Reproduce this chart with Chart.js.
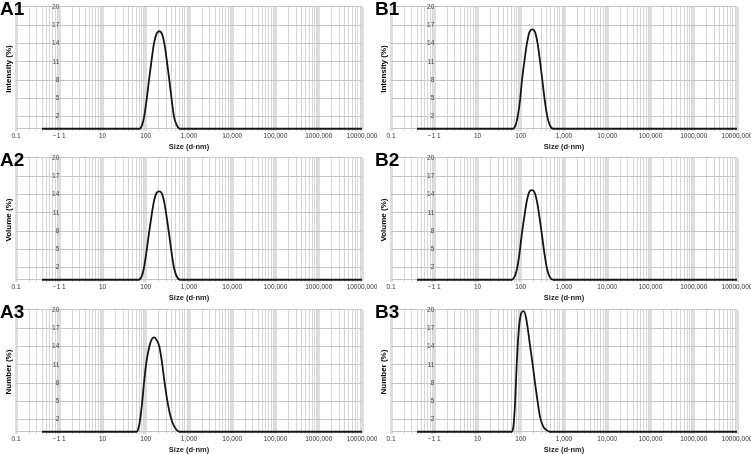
<!DOCTYPE html>
<html>
<head>
<meta charset="utf-8">
<script src="https://cdn.jsdelivr.net/npm/chart.js@4/dist/chart.umd.min.js"></script>
<style>
  html, body { margin: 0; padding: 0; background: #fff; width: 751px; height: 454px; overflow: hidden; position: relative; }
  canvas { position: absolute; }
</style>
</head>
<body>
<canvas id="cA1" width="400" height="151" style="left:0px;top:0px"></canvas>
<canvas id="cB1" width="400" height="151" style="left:375px;top:0px"></canvas>
<canvas id="cA2" width="400" height="151" style="left:0px;top:151px"></canvas>
<canvas id="cB2" width="400" height="151" style="left:375px;top:151px"></canvas>
<canvas id="cA3" width="400" height="151" style="left:0px;top:303px"></canvas>
<canvas id="cB3" width="400" height="151" style="left:375px;top:303px"></canvas>
<script>
// ---- axis labels ----
const xTickValues = [0.1, 1, 10, 100, 1000, 10000, 100000, 1000000, 10000000];
const xTickLabels = ['0.1', '\u22121 1', '10', '100', '1,000', '10,000', '100,000', '1000,000', '10000,000'];
const yTicks = [2, 5, 8, 11, 14, 17, 20];
const xTitle = 'Size (d\u00b7nm)';

// ---- series (size in d.nm, percent) ----
const sizeA1 = [0.4, 72, 82, 92, 104, 119, 136, 155, 178, 206, 236, 269, 307, 351, 400, 450, 520, 620, 10000000];
const valA1  = [0, 0, 0.6, 2.0, 4.6, 8.0, 11.2, 14.0, 15.6, 16.0, 15.6, 14.0, 11.2, 8.0, 4.6, 2.0, 0.6, 0, 0];

const sizeB1 = [0.4, 66, 76, 85, 96, 107, 122, 139, 160, 185, 213, 245, 280, 315, 360, 411, 470, 560, 10000000];
const valB1  = [0, 0, 0.6, 2.0, 4.6, 8.0, 11.2, 14.0, 15.9, 16.3, 15.9, 14.0, 11.0, 8.0, 4.6, 2.0, 0.6, 0, 0];

const sizeA2 = [0.4, 70, 80, 90, 102, 117, 134, 153, 176, 204, 234, 268, 306, 350, 400, 455, 525, 630, 10000000];
const valA2  = [0, 0, 0.5, 1.8, 4.2, 7.3, 10.2, 12.7, 14.2, 14.5, 14.2, 12.7, 10.2, 7.3, 4.2, 1.8, 0.5, 0, 0];

const sizeB2 = [0.4, 62, 72, 82, 93, 105, 120, 137, 157, 180, 207, 238, 272, 310, 355, 405, 465, 560, 10000000];
const valB2  = [0, 0, 0.5, 1.8, 4.2, 7.3, 10.2, 12.8, 14.4, 14.7, 14.4, 12.8, 10.2, 7.3, 4.2, 1.8, 0.5, 0, 0];

const sizeA3 = [0.4, 62, 68, 74, 82, 91, 104, 121, 138, 158, 180, 206, 236, 270, 310, 355, 410, 480, 600, 10000000];
const valA3  = [0, 0, 0.6, 2.0, 4.6, 8.0, 11.5, 14.0, 15.2, 15.5, 15.0, 14.0, 11.5, 8.3, 5.4, 3.2, 1.6, 0.6, 0, 0];

const sizeB3 = [0.4, 62, 68, 74, 80, 87, 95, 105, 117, 130, 145, 165, 189, 214, 245, 280, 330, 390, 470, 10000000];
const valB3  = [0, 0, 1.0, 4.8, 10.5, 15.3, 18.3, 19.6, 19.8, 19.0, 17.0, 14.0, 11.0, 8.0, 5.0, 2.4, 0.9, 0.3, 0, 0];

const panels = [
  { id: 'cA1', label: 'A1', yTitle: 'Intensity (%)', sizes: sizeA1, vals: valA1 },
  { id: 'cB1', label: 'B1', yTitle: 'Intensity (%)', sizes: sizeB1, vals: valB1 },
  { id: 'cA2', label: 'A2', yTitle: 'Volume (%)', sizes: sizeA2, vals: valA2 },
  { id: 'cB2', label: 'B2', yTitle: 'Volume (%)', sizes: sizeB2, vals: valB2 },
  { id: 'cA3', label: 'A3', yTitle: 'Number (%)', sizes: sizeA3, vals: valA3 },
  { id: 'cB3', label: 'B3', yTitle: 'Number (%)', sizes: sizeB3, vals: valB3 }
];

const FONT = '"Liberation Sans", Arial, Helvetica, sans-serif';

// log grid positions (1..9 x 10^n)
const gridVals = [];
for (let n = -1; n <= 6; n++) {
  for (let k = 1; k <= 9; k++) gridVals.push(k === 1 ? xTickValues[n + 1] : k * Math.pow(10, n));
}
gridVals.push(xTickValues[xTickValues.length - 1]);

const panelText = {
  id: 'panelText',
  afterDraw(chart, args, opts) {
    const { ctx, chartArea } = chart;
    ctx.save();
    ctx.fillStyle = '#000';
    ctx.font = 'bold 19px ' + FONT;
    ctx.textBaseline = 'top';
    ctx.textAlign = 'left';
    ctx.fillText(opts.label, 0, 0);
    ctx.font = 'bold 8px ' + FONT;
    ctx.translate(9, (chartArea.top + chartArea.bottom) / 2);
    ctx.rotate(-Math.PI / 2);
    ctx.textAlign = 'center';
    ctx.textBaseline = 'middle';
    ctx.fillText(opts.yTitle, 0, 0);
    ctx.restore();
  }
};

panels.forEach(p => {
  const data = p.sizes.map((s, i) => ({ x: s, y: p.vals[i] }));
  new Chart(document.getElementById(p.id), {
    type: 'line',
    data: {
      datasets: [{
        data: data,
        borderColor: '#151515',
        borderWidth: 1.8,
        pointRadius: 0,
        fill: false,
        cubicInterpolationMode: 'monotone'
      }]
    },
    options: {
      responsive: false,
      animation: false,
      devicePixelRatio: 1,
      layout: { padding: { left: 16, right: 38, top: 5, bottom: 0 } },
      plugins: {
        legend: { display: false },
        tooltip: { enabled: false },
        panelText: { label: p.label, yTitle: p.yTitle }
      },
      scales: {
        x: {
          type: 'logarithmic',
          min: xTickValues[0],
          max: xTickValues[xTickValues.length - 1],
          afterBuildTicks: (scale) => { scale.ticks = gridVals.map(v => ({ value: v })); },
          ticks: {
            autoSkip: false,
            maxRotation: 0,
            minRotation: 0,
            padding: 1,
            color: '#333',
            font: { family: FONT, size: 6.5 },
            callback: (v) => { const i = xTickValues.indexOf(v); return i >= 0 ? xTickLabels[i] : ''; }
          },
          grid: {
            drawTicks: false,
            color: (c) => (c.tick && xTickValues.indexOf(c.tick.value) >= 0) ? '#dedede' : '#d6d6d6',
            lineWidth: (c) => (c.tick && xTickValues.indexOf(c.tick.value) >= 0) ? 3 : 1
          },
          border: { display: false },
          title: {
            display: true,
            text: xTitle,
            color: '#1a1a1a',
            font: { family: FONT, size: 7.5, weight: 'bold' },
            padding: { top: 1, bottom: 0 }
          }
        },
        y: {
          type: 'linear',
          position: { x: 1 },
          min: -0.4,
          max: 20,
          afterBuildTicks: (scale) => { scale.ticks = [0].concat(yTicks).map(v => ({ value: v })); },
          ticks: {
            padding: 3,
            color: '#444',
            font: { family: FONT, size: 6.5 },
            callback: (v) => (yTicks.indexOf(v) >= 0 ? String(v) : '')
          },
          grid: { drawTicks: false, color: '#c6c6c6', lineWidth: 1 },
          border: { display: false }
        }
      }
    },
    plugins: [panelText]
  });
});
</script>
</body>
</html>
